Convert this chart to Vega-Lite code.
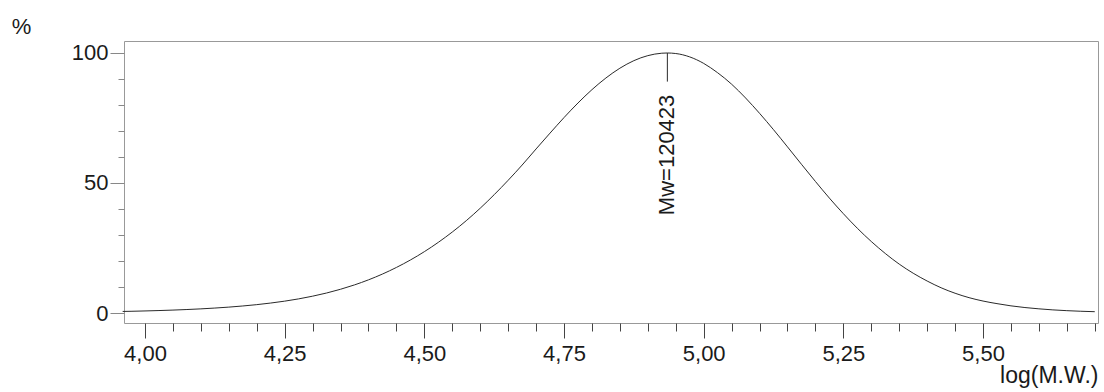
{
  "$schema": "https://vega.github.io/schema/vega-lite/v6.json",
  "width": 974,
  "height": 282,
  "autosize": {"type": "none"},
  "padding": {"left": 124, "top": 41, "right": 6, "bottom": 69},
  "background": "white",
  "config": {
    "font": "Liberation Sans",
    "view": {"stroke": "#999", "strokeWidth": 1},
    "axis": {"grid": false, "domain": false, "labelFont": "Liberation Sans", "titleFont": "Liberation Sans", "labelColor": "#1a1a1a", "titleColor": "#1a1a1a", "labelFontSize": 22, "titleFontSize": 22, "titleFontWeight": "normal"}
  },
  "datasets": {
    "curve": [
      {"logmw": 3.96, "pct": 0.6}, {"logmw": 3.975, "pct": 0.66}, {"logmw": 4.0, "pct": 0.79}, {"logmw": 4.025, "pct": 0.94},
      {"logmw": 4.05, "pct": 1.12}, {"logmw": 4.075, "pct": 1.34}, {"logmw": 4.1, "pct": 1.59}, {"logmw": 4.125, "pct": 1.9},
      {"logmw": 4.15, "pct": 2.26}, {"logmw": 4.175, "pct": 2.7}, {"logmw": 4.2, "pct": 3.21}, {"logmw": 4.225, "pct": 3.83},
      {"logmw": 4.25, "pct": 4.56}, {"logmw": 4.275, "pct": 5.43}, {"logmw": 4.3, "pct": 6.47}, {"logmw": 4.325, "pct": 7.69},
      {"logmw": 4.35, "pct": 9.13}, {"logmw": 4.375, "pct": 10.81}, {"logmw": 4.4, "pct": 12.75}, {"logmw": 4.425, "pct": 14.98},
      {"logmw": 4.45, "pct": 17.52}, {"logmw": 4.475, "pct": 20.38}, {"logmw": 4.5, "pct": 23.59}, {"logmw": 4.525, "pct": 27.17},
      {"logmw": 4.55, "pct": 31.14}, {"logmw": 4.575, "pct": 35.5}, {"logmw": 4.6, "pct": 40.3}, {"logmw": 4.625, "pct": 45.5},
      {"logmw": 4.65, "pct": 51.04}, {"logmw": 4.675, "pct": 56.9}, {"logmw": 4.7, "pct": 63.1}, {"logmw": 4.725, "pct": 69.2},
      {"logmw": 4.75, "pct": 75.16}, {"logmw": 4.775, "pct": 80.77}, {"logmw": 4.8, "pct": 85.9}, {"logmw": 4.825, "pct": 90.39},
      {"logmw": 4.85, "pct": 94.15}, {"logmw": 4.875, "pct": 97.05}, {"logmw": 4.9, "pct": 98.99}, {"logmw": 4.925, "pct": 99.92},
      {"logmw": 4.935, "pct": 100.0}, {"logmw": 4.95, "pct": 99.8}, {"logmw": 4.975, "pct": 98.5}, {"logmw": 5.0, "pct": 96.0},
      {"logmw": 5.025, "pct": 92.4}, {"logmw": 5.05, "pct": 88.0}, {"logmw": 5.075, "pct": 82.7}, {"logmw": 5.1, "pct": 76.8},
      {"logmw": 5.125, "pct": 70.5}, {"logmw": 5.15, "pct": 63.9}, {"logmw": 5.175, "pct": 57.2}, {"logmw": 5.2, "pct": 50.6},
      {"logmw": 5.225, "pct": 44.2}, {"logmw": 5.25, "pct": 38.2}, {"logmw": 5.275, "pct": 32.6}, {"logmw": 5.3, "pct": 27.5},
      {"logmw": 5.325, "pct": 22.9}, {"logmw": 5.35, "pct": 18.8}, {"logmw": 5.375, "pct": 15.3}, {"logmw": 5.4, "pct": 12.3},
      {"logmw": 5.425, "pct": 9.7}, {"logmw": 5.45, "pct": 7.6}, {"logmw": 5.475, "pct": 5.9}, {"logmw": 5.5, "pct": 4.6},
      {"logmw": 5.525, "pct": 3.6}, {"logmw": 5.55, "pct": 2.75}, {"logmw": 5.575, "pct": 2.1}, {"logmw": 5.6, "pct": 1.6},
      {"logmw": 5.625, "pct": 1.2}, {"logmw": 5.65, "pct": 0.9}, {"logmw": 5.675, "pct": 0.67}, {"logmw": 5.7, "pct": 0.5}
    ],
    "marker": [{"logmw": 4.935, "top": 100, "bottom": 89, "mid": 60.8, "label": "Mw=120423"}]
  },
  "layer": [
    {
      "data": {"name": "curve"},
      "mark": {"type": "line", "color": "#2a2a2a", "strokeWidth": 1, "interpolate": "monotone"},
      "encoding": {
        "x": {"field": "logmw", "type": "quantitative", "scale": {"domain": [3.9624, 5.7058], "nice": false, "zero": false},
          "axis": {"orient": "bottom", "values": [4.0, 4.25, 4.5, 4.75, 5.0, 5.25, 5.5], "tickSize": 15, "tickColor": "#444", "labelPadding": 5,
            "labelExpr": "replace(format(datum.value, '.2f'), '.', ',')",
            "title": "log(M.W.)", "titleFontSize": 23, "titleAnchor": "end", "titleAlign": "right", "titleBaseline": "alphabetic", "titleX": 974, "titleY": 59}},
        "y": {"field": "pct", "type": "quantitative", "scale": {"domain": [-3.846, 104.615], "nice": false, "zero": false},
          "axis": {"orient": "left", "values": [0, 50, 100], "tickSize": 14, "tickColor": "#888", "labelPadding": 2,
            "title": "%", "titleAngle": 0, "titleAlign": "center", "titleBaseline": "middle", "titleX": -103, "titleY": -15}}
      }
    },
    {
      "data": {"name": "marker"},
      "mark": {"type": "rule", "color": "#2a2a2a", "strokeWidth": 1},
      "encoding": {
        "x": {"field": "logmw", "type": "quantitative",
          "axis": {"orient": "bottom", "values": [4.05, 4.1, 4.15, 4.2, 4.3, 4.35, 4.4, 4.45, 4.55, 4.6, 4.65, 4.7, 4.8, 4.85, 4.9, 4.95, 5.05, 5.1, 5.15, 5.2, 5.3, 5.35, 5.4, 5.45, 5.55, 5.6, 5.65, 5.7], "tickSize": 8, "tickColor": "#444", "labels": false, "title": null}},
        "y": {"field": "top", "type": "quantitative",
          "axis": {"orient": "left", "values": [10, 20, 30, 40, 60, 70, 80, 90], "tickSize": 6, "tickColor": "#888", "labels": false, "title": null}},
        "y2": {"field": "bottom"}
      }
    },
    {
      "data": {"name": "marker"},
      "mark": {"type": "text", "angle": 270, "align": "center", "baseline": "middle", "fontSize": 22, "font": "Liberation Sans", "color": "#1a1a1a"},
      "encoding": {
        "x": {"field": "logmw", "type": "quantitative", "axis": null},
        "y": {"field": "mid", "type": "quantitative", "axis": null},
        "text": {"field": "label"}
      }
    }
  ],
  "resolve": {"axis": {"x": "independent", "y": "independent"}}
}
